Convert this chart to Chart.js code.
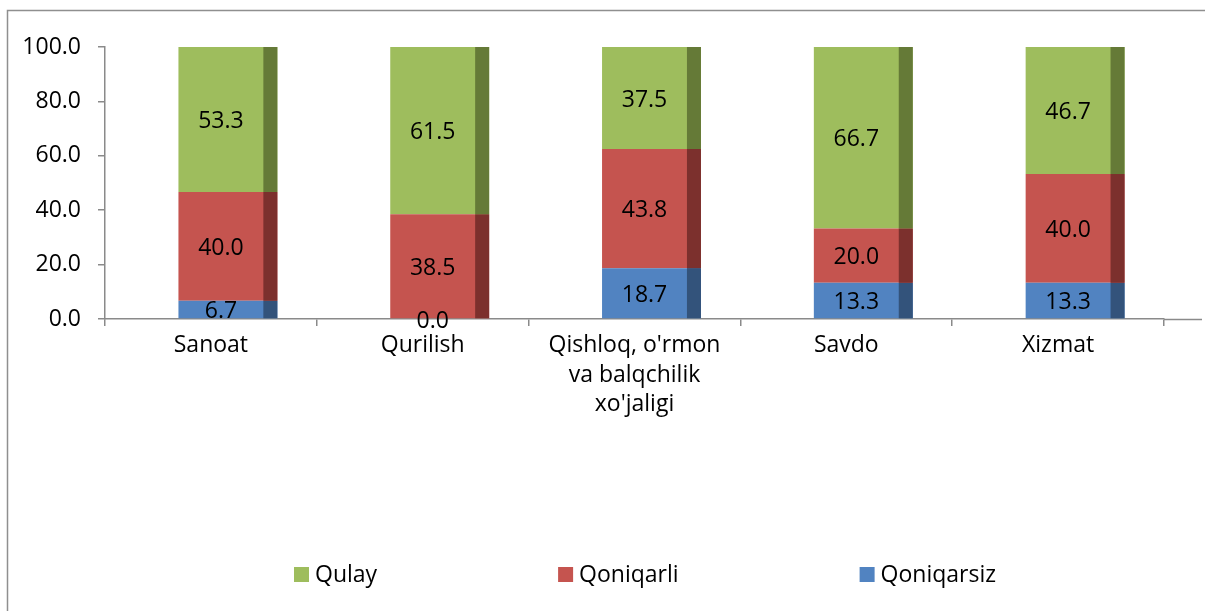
<!DOCTYPE html>
<html>
<head>
<meta charset="utf-8">
<script src="https://cdn.jsdelivr.net/npm/chart.js@4.4.1/dist/chart.umd.min.js"></script>
<style>
  html, body { margin: 0; padding: 0; background: #fff; }
  #wrap { position: relative; width: 1205px; height: 611px; overflow: hidden; }
</style>
</head>
<body>
<div id="wrap"><canvas id="c" width="1205" height="611"></canvas></div>
<script>
const categories = ['Sanoat', 'Qurilish', ["Qishloq, o'rmon", 'va balqchilik', "xo'jaligi"], 'Savdo', 'Xizmat'];
const qoniqarsiz = [6.7, 0.0, 18.7, 13.3, 13.3];
const qoniqarli = [40.0, 38.5, 43.8, 20.0, 40.0];
const qulay = [53.3, 61.5, 37.5, 66.7, 46.7];
const yTicks = [0, 20, 40, 60, 80, 100];

const FONT = "'Open Sans', sans-serif";
const FS = 23;
const AXIS = '#8a8a8a';
const SHIFT = 17;   // 3D offset of bars
const DEPTH = 14;   // dark side width

const bar3d = {
  id: 'bar3d',
  beforeDraw(chart) {
    const ctx = chart.ctx;
    ctx.save();
    ctx.strokeStyle = '#8f8f8f';
    ctx.lineWidth = 1.5;
    ctx.strokeRect(7.5, 10.5, 1240, 660);
    ctx.restore();
  },
  beforeDatasetsDraw(chart) {
    chart.ctx.save();
    chart.ctx.translate(SHIFT, 0);
  },
  afterDatasetsDraw(chart) {
    const ctx = chart.ctx;
    chart.data.datasets.forEach((ds, di) => {
      const meta = chart.getDatasetMeta(di);
      meta.data.forEach((el) => {
        const right = el.x + el.width / 2;
        const top = Math.min(el.y, el.base), h = Math.abs(el.base - el.y);
        ctx.fillStyle = ds.sideColor;
        ctx.fillRect(right - DEPTH, top, DEPTH, h);
      });
    });
    ctx.fillStyle = '#000';
    ctx.font = FS + 'px ' + FONT;
    ctx.textAlign = 'center';
    ctx.textBaseline = 'middle';
    chart.data.datasets.forEach((ds, di) => {
      const meta = chart.getDatasetMeta(di);
      meta.data.forEach((el, i) => {
        const cx = el.x - DEPTH / 2;
        const cy = (el.y + el.base) / 2 + 2;
        ctx.fillText(ds.data[i].toFixed(1), cx, cy);
      });
    });
    ctx.restore();
  },
  afterDraw(chart) {
    const ctx = chart.ctx;
    const a = chart.chartArea;
    ctx.save();
    ctx.strokeStyle = AXIS;
    ctx.lineWidth = 1.5;
    ctx.beginPath();
    ctx.moveTo(a.right, Math.round(a.bottom) + 0.5);
    ctx.lineTo(a.right + 38, Math.round(a.bottom) + 0.5);
    ctx.stroke();
    // legend (reverse dataset order, like the reference)
    const items = chart.data.datasets.slice().reverse();
    let x = 294;
    const y = 575;
    ctx.font = FS + 'px ' + FONT;
    ctx.textBaseline = 'middle';
    ctx.textAlign = 'left';
    items.forEach((ds) => {
      ctx.fillStyle = ds.backgroundColor;
      ctx.fillRect(x, y - 8, 15, 15);
      ctx.fillStyle = '#000';
      ctx.fillText(ds.label, x + 21, y);
      x += 21 + ctx.measureText(ds.label).width + 181;
    });
    ctx.restore();
  }
};

new Chart(document.getElementById('c'), {
  type: 'bar',
  data: {
    labels: categories,
    datasets: [
      { label: 'Qoniqarsiz', data: qoniqarsiz, backgroundColor: '#5183C1', sideColor: '#33537B' },
      { label: 'Qoniqarli', data: qoniqarli, backgroundColor: '#C5544F', sideColor: '#7C302D' },
      { label: 'Qulay', data: qulay, backgroundColor: '#9EBD5D', sideColor: '#657A37' }
    ]
  },
  options: {
    responsive: false,
    animation: false,
    devicePixelRatio: 1,
    layout: { padding: { left: 0, right: 41, top: 47, bottom: 0 } },
    datasets: { bar: { categoryPercentage: 1, barPercentage: 0.467, borderWidth: 0 } },
    plugins: { legend: { display: false }, tooltip: { enabled: false } },
    scales: {
      x: {
        stacked: true,
        afterFit(s) { s.height = 292; },
        grid: { offset: true, drawOnChartArea: false, tickLength: 7, color: AXIS, lineWidth: 1.5 },
        border: { color: AXIS, width: 1.5 },
        ticks: { color: '#000', font: { family: FONT, size: FS, lineHeight: 1.28 }, padding: 5, maxRotation: 0, autoSkip: false }
      },
      y: {
        stacked: true,
        min: 0, max: 100,
        afterFit(s) { s.width = 105; },
        afterBuildTicks(s) { s.ticks = yTicks.map(v => ({ value: v })); },
        grid: { drawOnChartArea: false, tickLength: 7, color: AXIS, lineWidth: 1.5 },
        border: { color: AXIS, width: 1.5 },
        ticks: { color: '#000', font: { family: FONT, size: FS }, padding: 17, callback: v => Number(v).toFixed(1) }
      }
    }
  },
  plugins: [bar3d]
});
</script>
</body>
</html>
